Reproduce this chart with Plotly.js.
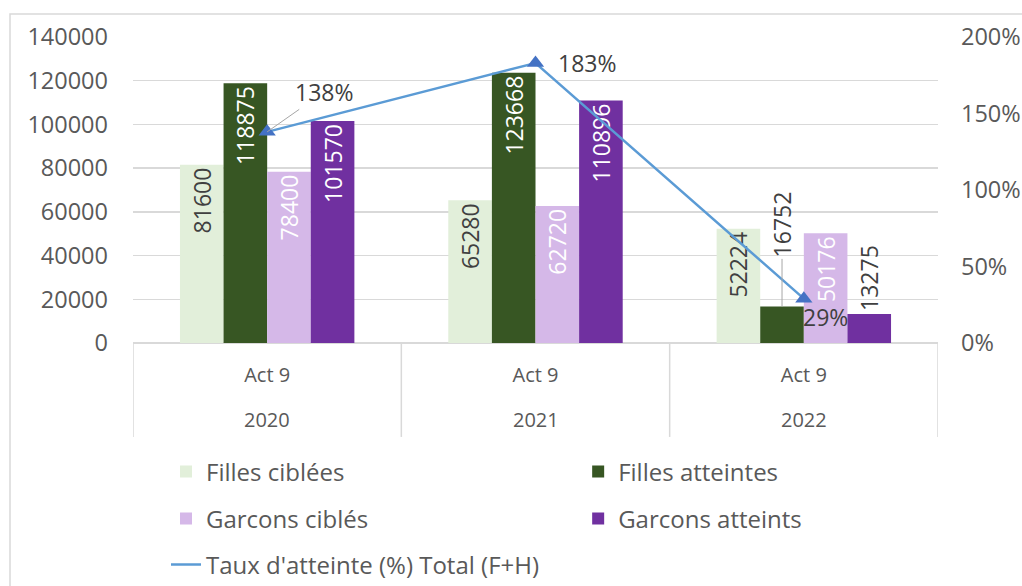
<!DOCTYPE html>
<html>
<head>
<meta charset="utf-8">
<script src="https://cdn.plot.ly/plotly-3.0.1.min.js"></script>
<style>
  html, body { margin: 0; padding: 0; background: #fff; }
  #chart { width: 1022px; height: 586px; }
</style>
</head>
<body>
<div id="chart"></div>
<script>
var years = ["2020", "2021", "2022"];
var activities = ["Act 9", "Act 9", "Act 9"];
var fillesCiblees = [81600, 65280, 52224];
var fillesAtteintes = [118875, 123668, 16752];
var garconsCibles = [78400, 62720, 50176];
var garconsAtteints = [101570, 110896, 13275];
var tauxAtteinte = [1.38, 1.83, 0.29];

var FONT = "Open Sans, sans-serif";
var GREY = "#595959";
var DARK = "#404040";
var GRID = "#D9D9D9";
var BARGAP = 0.35;
var LBL = 23;

function labels(arr) {
  return arr.map(function (v) { return String(v); });
}

function pct(v) {
  return Math.round(v * 100) + "%";
}

function barTrace(name, vals, color, textColors, positions, legend) {
  return {
    type: "bar",
    name: name,
    x: years,
    y: vals,
    marker: { color: color },
    text: labels(vals),
    textposition: positions,
    insidetextanchor: "end",
    textangle: -90,
    constraintext: "inside",
    textfont: { family: FONT, size: LBL, color: textColors },
    outsidetextfont: { family: FONT, size: LBL, color: DARK },
    cliponaxis: false,
    legend: legend,
    hoverinfo: "y+name",
  };
}

// 2022 "Filles atteintes" label sits above the bar with a leader line
var faText = labels(fillesAtteintes);
faText[2] = "";

var traces = [
  barTrace("Filles ciblées", fillesCiblees, "#E2EFDA", DARK, "inside", "legend"),
  Object.assign(
    barTrace("Filles atteintes", fillesAtteintes, "#375623", "#ffffff", "inside", "legend2"),
    { text: faText }
  ),
  barTrace("Garcons ciblés", garconsCibles, "#D5B8E8", "#ffffff", "inside", "legend3"),
  barTrace(
    "Garcons atteints",
    garconsAtteints,
    "#7030A0",
    ["#ffffff", "#ffffff", DARK],
    ["inside", "inside", "outside"],
    "legend4"
  ),
  // line drawn once for the legend entry (plain line, like the original)
  {
    type: "scatter",
    mode: "lines",
    name: "Taux d'atteinte (%) Total (F+H)",
    x: years,
    y: tauxAtteinte,
    yaxis: "y2",
    line: { color: "#5B9BD5", width: 2.5 },
    cliponaxis: false,
    legend: "legend5",
  },
  {
    type: "scatter",
    mode: "markers",
    name: "Taux d'atteinte (%) Total (F+H)",
    x: years,
    y: tauxAtteinte,
    yaxis: "y2",
    marker: { symbol: "triangle-up", size: 15, color: "#4472C4" },
    cliponaxis: false,
    showlegend: false,
  },
];

// bar slot offset inside a group (4 series, gap BARGAP)
var nSeries = 4;
var barW = (1 - BARGAP) / nSeries;
function slot(i) {
  return (i - (nSeries - 1) / 2) * barW;
}

var lblFont = { family: FONT, size: LBL, color: DARK };
var annotations = [
  {
    x: 0, y: tauxAtteinte[0], xref: "x", yref: "y2",
    text: pct(tauxAtteinte[0]),
    showarrow: true, arrowhead: 0, arrowwidth: 1, arrowcolor: "#A6A6A6",
    ax: 57, ay: -40,
    font: lblFont,
  },
  {
    x: 1, y: tauxAtteinte[1], xref: "x", yref: "y2",
    text: pct(tauxAtteinte[1]),
    showarrow: false, xanchor: "left", yanchor: "middle",
    xshift: 20, yshift: 0,
    font: lblFont,
  },
  {
    x: 2, y: tauxAtteinte[2], xref: "x", yref: "y2",
    text: pct(tauxAtteinte[2]),
    showarrow: false, xanchor: "left", yanchor: "middle",
    xshift: -3, yshift: -18,
    font: lblFont,
  },
  {
    x: 2 + slot(1), y: fillesAtteintes[2], xref: "x", yref: "y",
    text: String(fillesAtteintes[2]),
    textangle: -90,
    showarrow: true, arrowhead: 0, arrowwidth: 1, arrowcolor: "#A6A6A6",
    ax: 0, ay: -82,
    font: lblFont,
  },
];

// outer category row (years) under the "Act 9" row
years.forEach(function (yr, i) {
  annotations.push({
    x: i, y: -0.2516, xref: "x", yref: "paper",
    text: yr, showarrow: false,
    xanchor: "center", yanchor: "middle",
    font: { family: FONT, size: 20, color: GREY },
  });
});

// category dividers
var shapes = [];
for (var d = 0; d <= years.length; d++) {
  shapes.push({
    type: "line", xref: "x", yref: "paper",
    x0: d - 0.5, x1: d - 0.5, y0: 0, y1: -0.307,
    line: { color: GRID, width: 1.5 },
  });
}
shapes.push({
  type: "rect", xref: "paper", yref: "paper",
  x0: -0.1528, x1: 1.12, y0: -0.9, y1: 1.075,
  line: { color: GRID, width: 1.5 },
  layer: "below",
});

function leg(px, py) {
  return {
    orientation: "h",
    x: px, xanchor: "left",
    y: py, yanchor: "middle",
    font: { family: FONT, size: 24, color: GREY },
  };
}

var layout = {
  width: 1022,
  height: 586,
  margin: { l: 133, r: 84, t: 37, b: 243, autoexpand: false },
  paper_bgcolor: "#ffffff",
  plot_bgcolor: "#ffffff",
  font: { family: FONT, size: 20, color: GREY },
  barmode: "group",
  bargap: BARGAP,
  bargroupgap: 0,
  showlegend: true,
  xaxis: {
    type: "category",
    tickvals: years,
    ticktext: activities,
    range: [-0.5, years.length - 0.5],
    showgrid: false,
    showline: false,
    ticks: "",
    ticklabelstandoff: 18,
    tickfont: { family: FONT, size: 20, color: GREY },
  },
  yaxis: {
    range: [0, 140000],
    dtick: 20000,
    tickformat: "d",
    showgrid: true,
    gridcolor: GRID,
    gridwidth: 1.5,
    zeroline: true,
    zerolinecolor: GRID,
    zerolinewidth: 1.5,
    showline: false,
    ticks: "",
    ticklabelstandoff: 24,
    tickfont: { family: FONT, size: 23.5, color: GREY },
  },
  yaxis2: {
    overlaying: "y",
    side: "right",
    range: [0, 2],
    dtick: 0.5,
    tickformat: ".0%",
    showgrid: false,
    zeroline: false,
    showline: false,
    ticks: "",
    ticklabelstandoff: 22,
    tickfont: { family: FONT, size: 23.5, color: GREY },
  },
  legend: leg(0.041, -0.4216),
  legend2: leg(0.553, -0.4216),
  legend3: leg(0.041, -0.575),
  legend4: leg(0.553, -0.575),
  legend5: leg(0.041, -0.7255),
  annotations: annotations,
  shapes: shapes,
};

Plotly.newPlot("chart", traces, layout, { displayModeBar: false, staticPlot: true });
</script>
</body>
</html>
